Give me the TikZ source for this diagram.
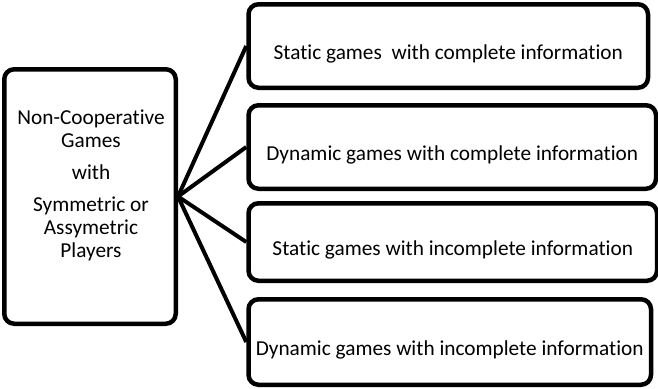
\documentclass[tikz,border=0pt]{standalone}
\usepackage{fontspec}
\setmainfont{Carlito}[Ligatures=NoCommon]
\usetikzlibrary{calc,backgrounds}
\tikzstyle{games}=[
  x=1pt, y=-1pt, font=\fontsize{21.3}{23}\selectfont
]
\tikzstyle{gamenode}=[
  line width=4.5pt, draw, rounded corners=10pt, inner sep=0pt
]
\tikzstyle{gametype}=[
  gamenode, anchor=west, minimum height=83.5pt, text height=26pt, text depth=0pt
]
\tikzstyle{gameedge}=[
  line width=4pt
]
\tikzstyle{gametext}=[
  align=center, inner sep=0pt
]
\begin{document}
\begin{tikzpicture}[games]
    \useasboundingbox (0,0) rectangle (658,388);
    \node (root) [gamenode, minimum width=171.5pt, minimum height=254.5pt] at (90, 196.5) {};
    \node (root text) [gametext] at (91, 185) {Non-Cooperative\\Games\\[9pt]with\\[9pt]Symmetric or\\Assymetric\\Players};
    \node (sc) [gametype, minimum width=399.5pt] at (246.25, 46) {Static games~ with complete information};
    \node (dc) [gametype, minimum width=407.5pt] at (246.25, 147) {Dynamic games with complete information};
    \node (si) [gametype, minimum width=408.5pt, minimum height=77.5pt] at (246.25, 242) {Static games with incomplete information};
    \node (di) [gametype, minimum width=402.5pt, minimum height=85.5pt] at (246.25, 342) {Dynamic games with incomplete information};
    \begin{scope}[on background layer]
    \draw [gameedge] (root.east) -- (sc.west);
    \draw [gameedge] (root.east) -- (dc.west);
    \draw [gameedge] (root.east) -- (si.west);
    \draw [gameedge] (root.east) -- (di.west);
    \end{scope}
\end{tikzpicture}
\end{document}
